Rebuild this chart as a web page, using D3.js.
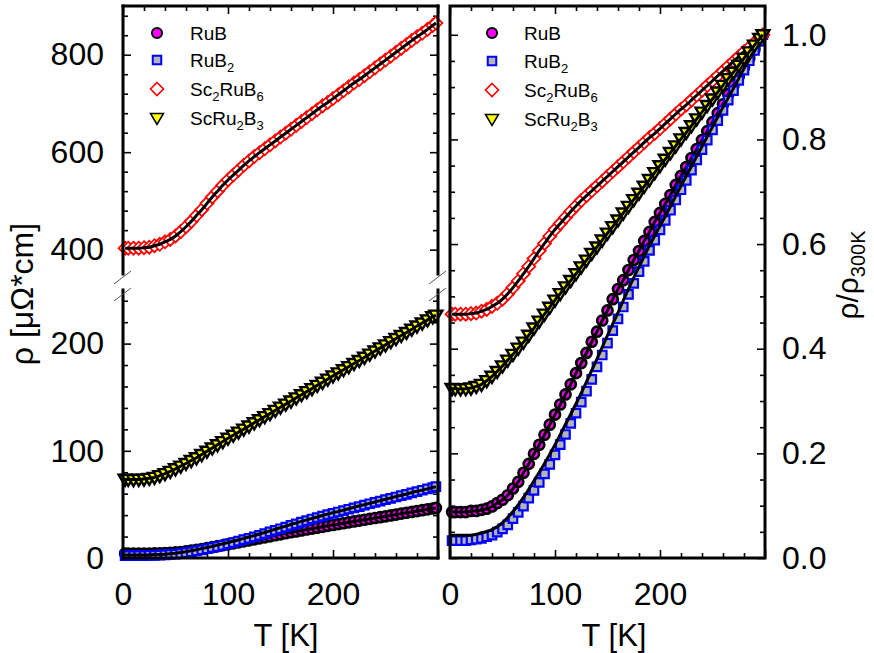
<!DOCTYPE html>
<html>
<head>
<meta charset="utf-8">
<script src="https://cdn.jsdelivr.net/npm/d3@7"></script>
<style>
  body { margin: 0; background: #fff; }
  svg text { font-family: "Liberation Sans", Arial, sans-serif; fill: #000; }
</style>
</head>
<body>
<svg id="chart" width="874" height="653"></svg>
<script>
// temperature grid [K]
const TEMPS = [2, 5, 10, 15, 20, 25, 30, 35, 40, 45, 50, 55, 60, 65, 70, 75, 80, 85, 90, 95,
  100, 105, 110, 115, 120, 125, 130, 135, 140, 145, 150, 155, 160, 165, 170, 175, 180, 185, 190, 195,
  200, 205, 210, 215, 220, 225, 230, 235, 240, 245, 250, 255, 260, 265, 270, 275, 280, 285, 290, 295, 298];

// resistivity [uOhm*cm]
const RHO_RUB = [4.1, 4.1, 4.1, 4.1, 4.2, 4.2, 4.3, 4.4, 4.6, 4.9, 5.2, 5.6, 6.2, 6.8, 7.6, 8.4, 9.3, 10.1, 11.0, 11.9,
  12.8, 13.7, 14.6, 15.5, 16.5, 17.4, 18.3, 19.3, 20.2, 21.2, 22.1, 23.1, 24.0, 24.8, 25.7, 26.6, 27.4, 28.3, 29.1, 30.0,
  30.8, 31.6, 32.4, 33.3, 34.1, 34.9, 35.7, 36.5, 37.3, 38.1, 38.9, 39.7, 40.5, 41.4, 42.2, 43.0, 43.8, 44.6, 45.4, 46.2, 46.7];
const RHO_RUB2 = [2.2, 2.2, 2.2, 2.2, 2.3, 2.4, 2.5, 2.7, 2.9, 3.3, 3.7, 4.2, 5.0, 5.8, 6.6, 7.6, 8.6, 9.6, 10.7, 11.9,
  13.1, 14.4, 15.7, 17.1, 18.4, 19.8, 21.2, 22.7, 24.3, 25.8, 27.3, 28.9, 30.4, 31.9, 33.5, 34.9, 36.4, 37.7, 39.1, 40.4,
  41.7, 42.9, 44.2, 45.5, 46.8, 48.0, 49.3, 50.6, 51.9, 53.1, 54.4, 55.6, 56.9, 58.2, 59.4, 60.7, 62.0, 63.2, 64.5, 65.7, 66.5];
const RHO_SC2RUB6 = [403, 403, 403, 403, 404, 405, 408, 411, 416, 421, 428, 437, 447, 458, 470, 482, 495, 508, 520, 532,
  543, 553, 563, 573, 582, 591, 599, 607, 615, 623, 631, 639, 647, 655, 663, 671, 679, 687, 695, 702,
  710, 718, 726, 734, 742, 749, 757, 765, 773, 781, 789, 797, 805, 813, 821, 829, 837, 844, 852, 860, 865];
const RHO_SCRU2B3 = [73.4, 73.3, 73.2, 73.3, 73.6, 74.3, 75.2, 76.8, 78.7, 80.8, 83.2, 85.7, 88.2, 90.9, 93.5, 96.5, 99.6, 102.6, 105.6, 108.6,
  111.7, 114.5, 117.4, 120.2, 123.1, 126.1, 129.0, 131.9, 134.7, 137.7, 140.7, 143.5, 146.4, 149.4, 152.3, 155.2, 158.0, 161.0, 163.9, 166.9,
  169.9, 172.7, 175.6, 178.5, 181.5, 184.3, 187.2, 190.2, 193.1, 196.0, 198.8, 201.8, 204.7, 207.6, 210.4, 213.4, 216.4, 219.2, 222.1, 225.0, 226.6];

// fitted curve for RuB2 (drawn as its own black line)
const FIT_TEMPS = [0, 10, 20, 30, 40, 50, 60, 70, 80, 90, 100, 110, 120, 130, 140, 150, 160, 170, 180, 190,
  200, 210, 220, 230, 240, 250, 260, 270, 280, 290, 298];
const FIT_RUB2 = [2.9, 2.9, 2.9, 3.2, 3.6, 4.5, 5.9, 7.7, 9.8, 12.0, 14.4, 17.0, 19.6, 22.4, 25.3, 28.3, 31.2, 34.2, 37.0, 39.7,
  42.2, 44.7, 47.3, 49.8, 52.3, 54.8, 57.3, 59.7, 62.2, 64.5, 66.5];

const SERIES_KEYS = ["RuB", "RuB2", "Sc2RuB6", "ScRu2B3"];
const SERIES_VALUES = [RHO_RUB, RHO_RUB2, RHO_SC2RUB6, RHO_SCRU2B3];
// legend labels as [text, isSubscript] pieces
const LEGEND_LABELS = [
  [["RuB", 0]],
  [["RuB", 0], ["2", 1]],
  [["Sc", 0], ["2", 1], ["RuB", 0], ["6", 1]],
  [["ScRu", 0], ["2", 1], ["B", 0], ["3", 1]]
];

const X_MAJOR = [0, 100, 200, 300];
const X_LABELS = [0, 100, 200];
const X_MINOR = [20, 40, 60, 80, 120, 140, 160, 180, 220, 240, 260, 280];
const YUP_MAJOR = [400, 600, 800];
const YUP_MINOR = [440, 480, 520, 560, 640, 680, 720, 760, 840, 880];
const YLO_MAJOR = [0, 100, 200];
const YLO_MINOR = [20, 40, 60, 80, 120, 140, 160, 180, 220, 240];
const YR_MAJOR = [0, 0.2, 0.4, 0.6, 0.8, 1.0];
const YR_MINOR = [0.05, 0.1, 0.15, 0.25, 0.3, 0.35, 0.45, 0.5, 0.55, 0.65, 0.7, 0.75, 0.85, 0.9, 0.95];

const SVG = d3.select("#chart");

// STYLES
const STYLE = {
  RuB:     { shape: "circle",   fill: "#ff00ff", stroke: "#000000", sw: 2, dsw: 2.6 },
  RuB2:    { shape: "square",   fill: "#b4b4b4", stroke: "#0000ff", sw: 2, dsw: 2.2 },
  Sc2RuB6: { shape: "diamond",  fill: "#ffffff", stroke: "#ff0000", sw: 1.6, dsw: 1.8 },
  ScRu2B3: { shape: "triangle", fill: "#ffff00", stroke: "#000000", sw: 1.5, dsw: 2.4 }
};

function markerPath(shape) {
  if (shape === "circle") return d3.symbol(d3.symbolCircle, 80)();
  if (shape === "square") return d3.symbol(d3.symbolSquare, 72)();
  if (shape === "diamond") return "M0,-6.5L6.5,0L0,6.5L-6.5,0Z";
  return "M-6.5,-4.5L6.5,-4.5L0,6.5Z";
}

// SCALES
const TOP = 6, BOTTOM = 558;
const xL = d3.scaleLinear([0, 300], [123, 438]);
const xR = d3.scaleLinear([0, 300], [450, 765]);
const yUp = d3.scaleLinear([350, 900], [274, TOP]);
const yLo = d3.scaleLinear([0, 250], [BOTTOM, 290]);
const yR = d3.scaleLinear([0, 1.055], [BOTTOM, TOP]);

// TICKS
function ticks(axisFn, scale, values, size, pos, labels, fmt, pad) {
  const ax = axisFn(scale).tickValues(values).tickSizeInner(-size).tickSizeOuter(0)
    .tickPadding(pad || 0)
    .tickFormat(d => labels && labels.includes(d) ? fmt(d) : "");
  const g = SVG.append("g").attr("transform", pos).call(ax);
  g.select(".domain").remove();
  g.selectAll(".tick line").attr("stroke", "#000").attr("stroke-width", 1.6);
  g.selectAll("text").style("font-size", "32px").attr("fill", "#000");
  return g;
}

function xTicks(x) {
  const fmt = d3.format("d");
  ticks(d3.axisBottom, x, X_MAJOR, 8, `translate(0,${BOTTOM})`, X_LABELS, fmt, 24);
  ticks(d3.axisBottom, x, X_MINOR, 5, `translate(0,${BOTTOM})`);
  ticks(d3.axisTop, x, X_MAJOR, 8, `translate(0,${TOP})`);
  ticks(d3.axisTop, x, X_MINOR, 5, `translate(0,${TOP})`);
}
xTicks(xL);
xTicks(xR);

// left panel, broken y axis
const fmtInt = d3.format("d");
ticks(d3.axisLeft, yUp, YUP_MAJOR, 8, `translate(${xL(0)},0)`, YUP_MAJOR, fmtInt, 19);
ticks(d3.axisLeft, yUp, YUP_MINOR, 5, `translate(${xL(0)},0)`);
ticks(d3.axisLeft, yLo, YLO_MAJOR, 8, `translate(${xL(0)},0)`, YLO_MAJOR, fmtInt, 19);
ticks(d3.axisLeft, yLo, YLO_MINOR, 5, `translate(${xL(0)},0)`);
ticks(d3.axisRight, yUp, YUP_MAJOR, 8, `translate(${xL(300)},0)`);
ticks(d3.axisRight, yUp, YUP_MINOR, 5, `translate(${xL(300)},0)`);
ticks(d3.axisRight, yLo, YLO_MAJOR, 8, `translate(${xL(300)},0)`);
ticks(d3.axisRight, yLo, YLO_MINOR, 5, `translate(${xL(300)},0)`);

// right panel, normalised axis
const fmt1 = d3.format(".1f");
ticks(d3.axisLeft, yR, YR_MAJOR, 8, `translate(${xR(0)},0)`);
ticks(d3.axisLeft, yR, YR_MINOR, 5, `translate(${xR(0)},0)`);
ticks(d3.axisRight, yR, YR_MAJOR, 8, `translate(${xR(300)},0)`, YR_MAJOR, fmt1, 17);
ticks(d3.axisRight, yR, YR_MINOR, 5, `translate(${xR(300)},0)`);

// DATA
const LINE = d3.line().curve(d3.curveMonotoneX);

function drawSeries(x, yFor, norm) {
  const g = SVG.append("g");
  SERIES_KEYS.forEach((key, i) => {
    const st = STYLE[key];
    const y = yFor(key);
    const v = SERIES_VALUES[i];
    const k = norm ? v[v.length - 1] : 1;
    const pts = TEMPS.map((t, j) => [x(t), y(v[j] / k)]);
    g.append("g").selectAll("path")
      .data(pts)
      .join("path")
      .attr("d", markerPath(st.shape))
      .attr("transform", d => `translate(${d[0]},${d[1]})`)
      .attr("fill", st.fill)
      .attr("stroke", st.stroke)
      .attr("stroke-width", st.dsw);
    // black fitted line; RuB2 has its own fit curve
    const fitPts = key === "RuB2"
      ? FIT_TEMPS.map((t, j) => [x(t), y(FIT_RUB2[j] / k)])
      : pts;
    g.append("path")
      .attr("d", LINE(fitPts))
      .attr("fill", "none")
      .attr("stroke", "#000")
      .attr("stroke-width", 3);
  });
}

drawSeries(xL, key => key === "Sc2RuB6" ? yUp : yLo, false);
drawSeries(xR, () => yR, true);

// FRAMES
const frame = SVG.append("g").attr("stroke", "#000").attr("stroke-width", 3).attr("fill", "none");
[[xL(0), TOP, xL(300), TOP], [xL(0), BOTTOM, xL(300), BOTTOM],
 [xL(0), TOP, xL(0), 274], [xL(0), 290, xL(0), BOTTOM],
 [xL(300), TOP, xL(300), 274], [xL(300), 290, xL(300), BOTTOM]]
  .forEach(l => frame.append("line").attr("x1", l[0]).attr("y1", l[1]).attr("x2", l[2]).attr("y2", l[3]).attr("stroke-linecap", "square"));
frame.append("rect").attr("x", xR(0)).attr("y", TOP).attr("width", xR(300) - xR(0)).attr("height", BOTTOM - TOP);

// break marks
const brk = SVG.append("g").attr("stroke", "#555").attr("stroke-width", 1);
[xL(0), xL(300)].forEach(ax => {
  [277, 294].forEach(yb => {
    brk.append("line").attr("x1", ax - 9).attr("y1", yb + 7).attr("x2", ax + 8).attr("y2", yb - 6);
  });
});

// LEGENDS
function legend(mx, tx, rows) {
  const g = SVG.append("g");
  SERIES_KEYS.forEach((key, i) => {
    const st = STYLE[key];
    g.append("path")
      .attr("d", markerPath(st.shape))
      .attr("transform", `translate(${mx},${rows[i]})`)
      .attr("fill", st.fill).attr("stroke", st.stroke).attr("stroke-width", st.sw);
    const t = g.append("text").attr("x", tx).attr("y", rows[i] + 6.5).style("font-size", "19px");
    let sub = false;
    LEGEND_LABELS[i].forEach(p => {
      const s = t.append("tspan").text(p[0]);
      if (p[1] && !sub) { s.attr("dy", 5).style("font-size", "13px"); sub = true; }
      else if (!p[1] && sub) { s.attr("dy", -5); sub = false; }
      else if (p[1]) s.style("font-size", "13px");
    });
  });
}
legend(157, 190, [33, 60, 89, 118]);
legend(492, 524, [33, 61, 90, 119]);

// AXIS TITLES
SVG.append("text").attr("x", 286).attr("y", 646).attr("text-anchor", "middle")
  .style("font-size", "31px").text("T [K]");
SVG.append("text").attr("x", 614).attr("y", 646).attr("text-anchor", "middle")
  .style("font-size", "31px").text("T [K]");
SVG.append("text").attr("transform", "translate(33,294) rotate(-90)").attr("text-anchor", "middle")
  .style("font-size", "32px").text("ρ [μΩ*cm]");
const rt = SVG.append("text").attr("transform", "translate(858,275) rotate(-90)").attr("text-anchor", "middle")
  .style("font-size", "30px");
rt.append("tspan").text("ρ/ρ");
rt.append("tspan").attr("dy", 7).style("font-size", "20px").text("300K");
</script>
</body>
</html>
